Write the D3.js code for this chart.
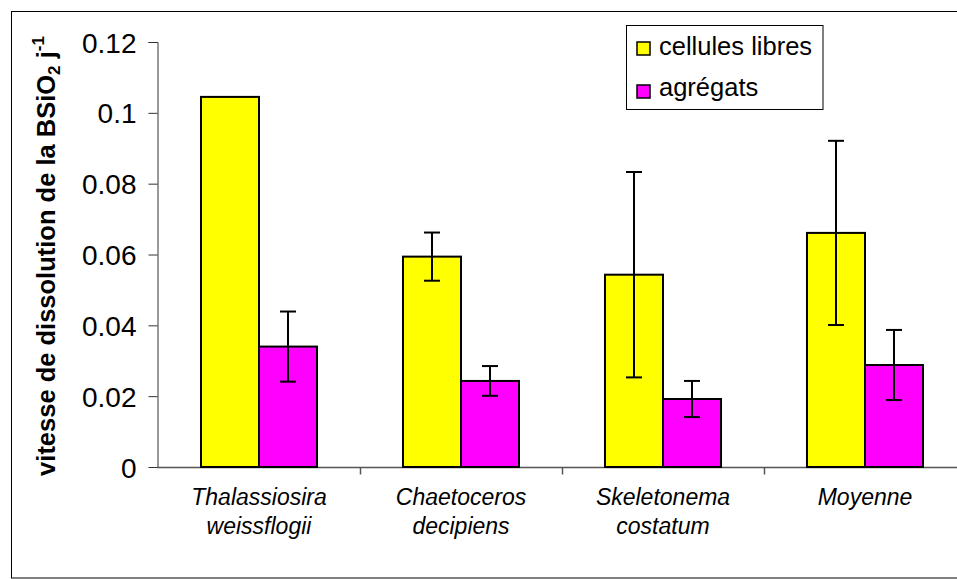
<!DOCTYPE html>
<html><head><meta charset="utf-8">
<script src="https://cdn.jsdelivr.net/npm/d3@7"></script>
<style>html,body{margin:0;padding:0;background:#fff;}svg{display:block;font-family:"Liberation Sans",Arial,sans-serif;}</style>
</head><body>
<svg id="c" width="957" height="579"></svg>
<script>
const categories = [["Thalassiosira","weissflogii"],["Chaetoceros","decipiens"],["Skeletonema","costatum"],["Moyenne"]];
const catKeys = ["T","C","S","M"];
const seriesNames = ["cellules libres","agrégats"];
const seriesColors = ["#ffff00","#ff00ff"];
const libres = [0.1045, 0.0594, 0.0543, 0.0661];
const libresErr = [0, 0.0068, 0.0290, 0.0260];
const agregats = [0.0340, 0.0243, 0.0192, 0.0288];
const agregatsErr = [0.0099, 0.0042, 0.0051, 0.0099];
const yTicks = [0, 0.02, 0.04, 0.06, 0.08, 0.1, 0.12];

const svg = d3.select("#c");
svg.append("rect").attr("x",11.5).attr("y",11.5).attr("width",1000).attr("height",566.5)
  .attr("fill","none").attr("stroke","#000").attr("stroke-width",1);

const y = d3.scaleLinear().domain([0,0.12]).range([467,42]);
const x = d3.scaleBand().domain(catKeys).range([158,966]).paddingInner(0).paddingOuter(0);
const xs = d3.scaleBand().domain([0,1]).range([0,x.bandwidth()]).paddingInner(0).paddingOuter(0.741);

const yAxis = d3.axisLeft(y).tickValues(yTicks).tickSize(9).tickPadding(12)
  .tickFormat(d => d===0 ? "0" : String(+d.toFixed(2)));
const gy = svg.append("g").attr("transform","translate(157.5,0)").call(yAxis);
gy.select(".domain").attr("stroke","#333").attr("d","M-9,42.5H0.5V467.5");
gy.selectAll(".tick line").attr("stroke","#333");
gy.selectAll(".tick text").attr("font-size",28).attr("fill","#000").attr("dy","0.36em")
  .attr("font-family","'Liberation Sans',Arial,sans-serif");

const gx = svg.append("g").attr("transform","translate(0,467.5)");
gx.append("line").attr("x1",157).attr("x2",966).attr("stroke","#555").attr("stroke-width",1.5);
const bounds = catKeys.map(k => x(k)).concat([x(catKeys[3])+x.bandwidth()]);
gx.selectAll("line.t").data(bounds.slice(1)).join("line").attr("class","t")
  .attr("x1",d=>Math.round(d)+0.5).attr("x2",d=>Math.round(d)+0.5).attr("y1",0).attr("y2",7)
  .attr("stroke","#555").attr("stroke-width",1.5);

const series = [libres, agregats];
const errs = [libresErr, agregatsErr];
series.forEach((vals, si) => {
  svg.append("g").selectAll("rect").data(vals).join("rect")
    .attr("x",(d,i)=>x(catKeys[i])+xs(si))
    .attr("y",d=>y(d))
    .attr("width",xs.bandwidth())
    .attr("height",d=>y(0)-y(d))
    .attr("fill",seriesColors[si]).attr("stroke","#000").attr("stroke-width",2);
});
series.forEach((vals, si) => {
  const g = svg.append("g");
  vals.forEach((v,i) => {
    const e = errs[si][i];
    if (!e) return;
    const cx = x(catKeys[i])+xs(si)+xs.bandwidth()/2;
    g.append("line").attr("x1",cx).attr("x2",cx).attr("y1",y(v+e)).attr("y2",y(v-e)).attr("stroke","#000").attr("stroke-width",2);
    [v+e, v-e].forEach(t => g.append("line").attr("x1",cx-8).attr("x2",cx+8).attr("y1",y(t)).attr("y2",y(t)).attr("stroke","#000").attr("stroke-width",2));
  });
});

categories.forEach((lines,i) => {
  const cx = x(catKeys[i]) + x.bandwidth()/2;
  const t = svg.append("text").attr("x",cx).attr("y",505).attr("text-anchor","middle")
    .attr("font-size",23).attr("font-style","italic").attr("fill","#000");
  lines.forEach((l,j) => t.append("tspan").attr("x",cx).attr("dy", j===0?0:29).text(l));
});

const yt = svg.append("text").attr("transform","translate(55,256) rotate(-90)")
  .attr("text-anchor","middle").attr("font-size",25.5).attr("font-weight","bold").attr("fill","#000");
yt.append("tspan").text("vitesse de dissolution de la BSiO");
yt.append("tspan").attr("font-size",17).attr("dy",5).text("2");
yt.append("tspan").attr("dy",-5).text(" j");
yt.append("tspan").attr("font-size",17).attr("dy",-11).text("-1");

const lg = svg.append("g");
lg.append("rect").attr("x",626.5).attr("y",25.5).attr("width",196.5).attr("height",84).attr("fill","#fff").attr("stroke","#000").attr("stroke-width",1);
seriesNames.forEach((n,i) => {
  lg.append("rect").attr("x",637).attr("y",42+i*43).attr("width",13).attr("height",13)
    .attr("fill",seriesColors[i]).attr("stroke","#000").attr("stroke-width",1.5);
  lg.append("text").attr("x",659).attr("y",55+i*41).attr("font-size",25.5).attr("fill","#000").text(n);
});
</script>
</body></html>
